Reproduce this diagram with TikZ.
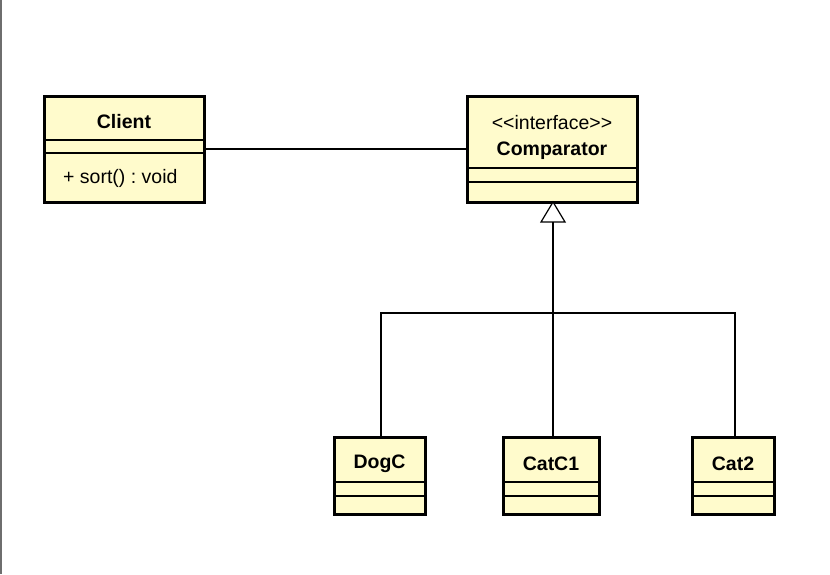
\documentclass[tikz,border=0pt]{standalone}
\usepackage{fontspec}
\setmainfont[Ligatures=NoCommon]{Liberation Sans}
\definecolor{classfill}{RGB}{255,251,204}
\definecolor{frameline}{RGB}{110,110,110}
\frenchspacing
\begin{document}
\begin{tikzpicture}[x=1pt,y=-1pt,
  classbox/.style={draw=none,fill=classfill,rectangle,inner sep=0pt,outer sep=0pt},
  outline/.style={line width=3pt},
  divider/.style={line width=1.2pt},
  conn/.style={line width=1.2pt},
  cname/.style={font=\fontsize{19.5}{22}\selectfont\bfseries,inner sep=0pt},
  ctext/.style={font=\fontsize{19.5}{22}\selectfont,inner sep=0pt}]
\useasboundingbox (0,0) rectangle (830,574);
\fill[white] (0,0) rectangle (830,574);
\draw[frameline,line width=2pt] (1,0) -- (1,574);

% class boxes
\node[classbox,minimum width=160pt,minimum height=106pt] (client) at (124,149) {};
\node[classbox,minimum width=170pt,minimum height=106pt] (comp) at (552,149) {};
\node[classbox,minimum width=91pt,minimum height=77pt] (dog) at (379.5,475.5) {};
\node[classbox,minimum width=96pt,minimum height=77pt] (cat1) at (551,475.5) {};
\node[classbox,minimum width=82pt,minimum height=77pt] (cat2) at (733,475.5) {};

% compartment separators
\coordinate (cA) at (0,140);
\coordinate (cB) at (0,153);
\coordinate (cC) at (0,168);
\coordinate (cD) at (0,182);
\coordinate (cE) at (0,482);
\coordinate (cF) at (0,496);
\draw[divider] (client.west |- cA) -- (client.east |- cA)
               (client.west |- cB) -- (client.east |- cB);
\draw[divider] (comp.west |- cC) -- (comp.east |- cC)
               (comp.west |- cD) -- (comp.east |- cD);
\foreach \c in {dog,cat1,cat2}{
  \draw[divider] (\c.west |- cE) -- (\c.east |- cE)
                 (\c.west |- cF) -- (\c.east |- cF);
}

% outlines
\foreach \c in {client,comp,dog,cat1,cat2}{
  \draw[outline] (\c.north west) rectangle (\c.south east);
}

% labels
\node[cname] (clientname) at (124,122) {Client};
\node[ctext,anchor=west] (sortop) at (63,178) {+ sort() : void};
\node[ctext] (stereo) at (552,123) {{<}{<}interface{>}{>}};
\node[cname] (compname) at (552,151) {Comparator};
\node[cname] (dogname) at (379.5,464) {DogC};
\node[cname] (cat1name) at (551,464) {CatC1};
\node[cname] (cat2name) at (733,464) {Cat2};

% association
\draw[conn] (client.east) -- (comp.west);

% realization tree
\coordinate (tip) at (553,202);
\coordinate (tribase) at (553,222);
\coordinate (bus) at (553,313);
\coordinate (xdog) at (381,0);
\coordinate (xcat1) at (553,0);
\coordinate (xcat2) at (735,0);
\draw[conn,fill=white] (tip) -- ++(-12,20) -- ++(24,0) -- cycle;
\draw[conn] (tribase) -- (bus);
\draw[conn] (dog.north -| xdog) |- (bus) -| (cat2.north -| xcat2);
\draw[conn] (bus) -- (cat1.north -| xcat1);
\end{tikzpicture}
\end{document}
